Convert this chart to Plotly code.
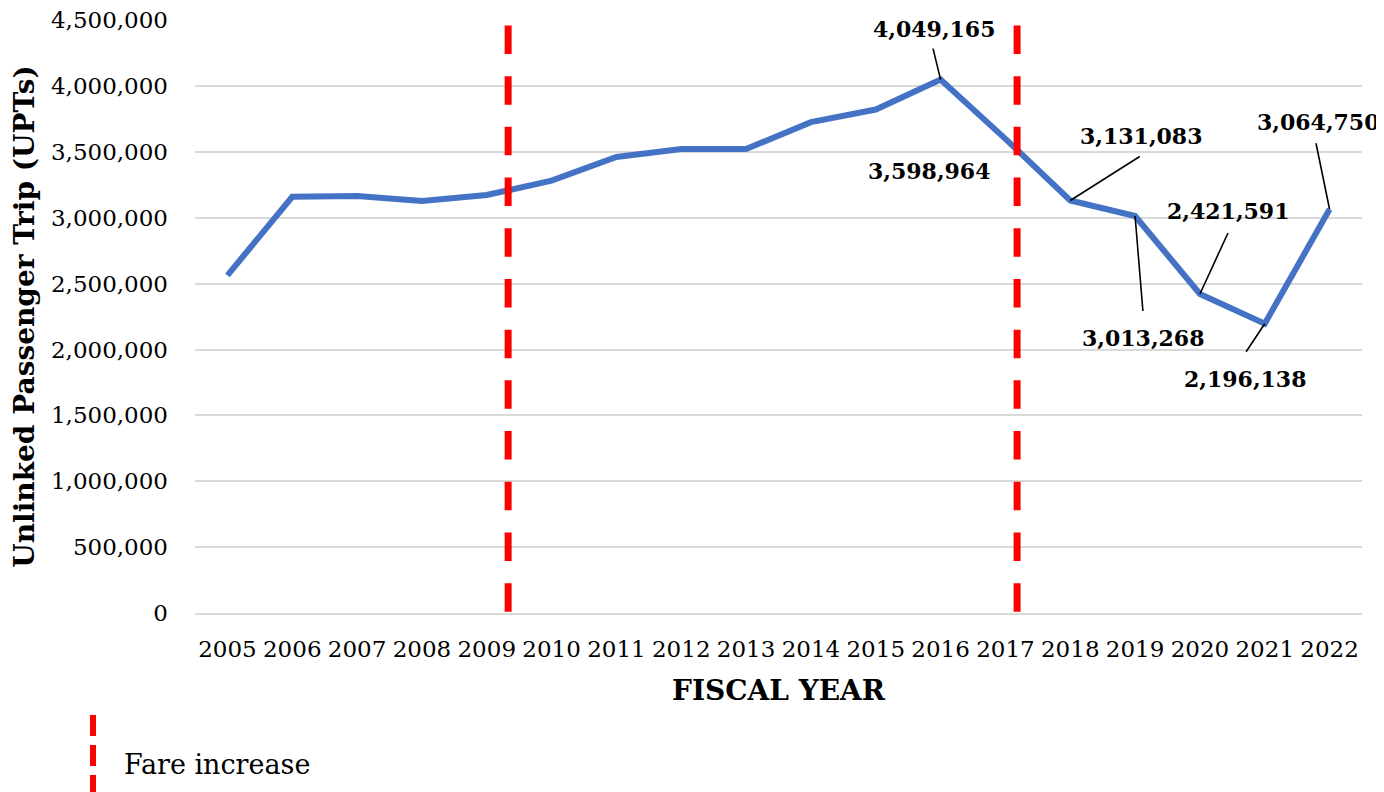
import plotly.graph_objects as go

years = list(range(2005, 2023))
upts = [2563000, 3160000, 3165000, 3127000, 3173000, 3282000, 3462000, 3523000,
        3522000, 3726000, 3822000, 4049165, 3598964, 3131083, 3013268, 2421591,
        2196138, 3064750]

# labelled points: text, text shift (px), leader end offset (px)
label_years = [2016, 2017, 2018, 2019, 2020, 2021, 2022]
label_texts = ["4,049,165", "3,598,964", "3,131,083", "3,013,268", "2,421,591", "2,196,138", "3,064,750"]
label_shift = [(-7, 51), (-76, -32), (71, 65), (8, -122), (28, 83), (-20, -55), (-12, 87)]
leader_end = [(-8, -33), None, (71, -45), (8, 97), (29, -63), (-20, 30), (-14, -68)]

fare_increase_x = [2009.33, 2017.18]
fare_line_top = 4460000

yticks = list(range(0, 4500001, 500000))
ytick_text = [f"{v:,}" for v in yticks]

FONT = "DejaVu Serif"

fig = go.Figure()
fig.add_trace(go.Scatter(
    x=years, y=upts, mode="lines",
    line=dict(color="#4472C4", width=6),
    showlegend=False, hoverinfo="skip"))

shapes = []
for fx in fare_increase_x:
    shapes.append(dict(type="line", xref="x", yref="y", x0=fx, x1=fx,
                       y0=fare_line_top, y1=0,
                       line=dict(color="#FF0000", width=7, dash="28.5px,22.2px"),
                       layer="above"))
# legend marker
shapes.append(dict(type="line", xref="paper", yref="paper", x0=-0.0874, x1=-0.0874,
                   y0=-0.172, y1=-0.31,
                   line=dict(color="#FF0000", width=6, dash="21px,9px")))

annotations = []
lookup = dict(zip(years, upts))
for yr, txt, (sx, sy), le in zip(label_years, label_texts, label_shift, leader_end):
    val = lookup[yr]
    if le is not None:
        annotations.append(dict(x=yr, y=val, xref="x", yref="y", text=" ",
                                font=dict(size=1), showarrow=True, arrowhead=0,
                                arrowwidth=1.6, arrowcolor="black", standoff=0,
                                startstandoff=0, ax=le[0], ay=le[1]))
    annotations.append(dict(x=yr, y=val, xref="x", yref="y", text=txt,
                            showarrow=False, xshift=sx, yshift=sy,
                            xanchor="center", yanchor="middle",
                            font=dict(family=FONT, size=22, color="black", weight="bold")))
annotations.append(dict(x=-0.0626, y=-0.2563, xref="paper", yref="paper",
                        text="Fare increase", showarrow=False,
                        xanchor="left", yanchor="middle",
                        font=dict(family=FONT, size=27, color="black")))

fig.update_layout(
    width=1376, height=784,
    margin=dict(l=187, r=22, t=12, b=179, autoexpand=False),
    paper_bgcolor="white", plot_bgcolor="white",
    font=dict(family=FONT, size=23, color="black"),
    shapes=shapes, annotations=annotations,
    xaxis=dict(range=[2004.5, 2022.5], tickvals=years, ticktext=[str(y) for y in years],
               showgrid=False, showline=True, linecolor="#d9d9d9", linewidth=2,
               zeroline=False, ticks="", ticklabelstandoff=14, automargin=False,
               title=dict(text="<b>FISCAL YEAR</b>", font=dict(family=FONT, size=28),
                          standoff=20),
               tickfont=dict(family=FONT, size=23, color="black")),
    yaxis=dict(range=[0, 4501500], tickvals=yticks, ticktext=ytick_text,
               showgrid=True, gridcolor="#d9d9d9", gridwidth=2,
               zeroline=False, showline=False, ticks="", ticklabelstandoff=26,
               ticklabeloverflow="allow", automargin=False,
               title=dict(text="<b>Unlinked Passenger Trip (UPTs)</b>",
                          font=dict(family=FONT, size=28), standoff=8),
               tickfont=dict(family=FONT, size=23, color="black")),
)

fig.write_html("out.html")
